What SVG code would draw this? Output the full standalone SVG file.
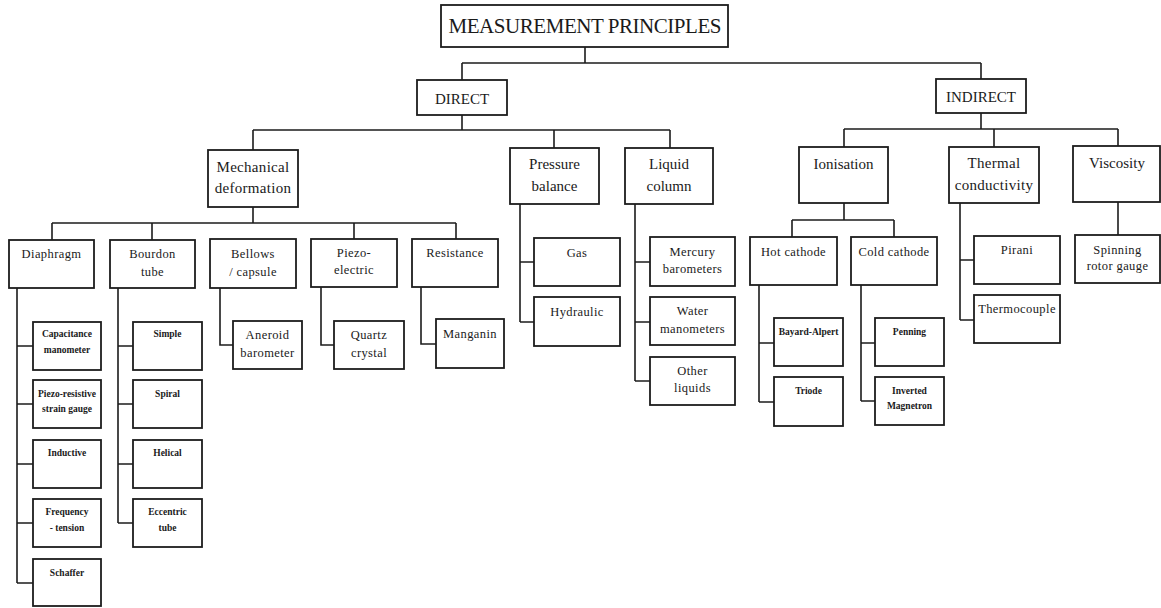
<svg xmlns="http://www.w3.org/2000/svg" width="1161" height="608" viewBox="0 0 1161 608">
<style>
.box{fill:#fff;stroke:#1c1c1c;stroke-width:1.8}
.ln{fill:none;stroke:#1c1c1c;stroke-width:1.6}
text{font-family:"Liberation Serif","Times New Roman",serif;fill:#1a1a1a;text-anchor:middle}
.t1{font-size:21px}
.t2{font-size:15px}
.t3{font-size:12.5px;letter-spacing:0.4px}
.t4{font-size:9.5px;font-weight:bold}
</style>
<rect width="1161" height="608" fill="#fff"/>
<g id="connectors">
<path class="ln" d="M585 47V63M462 63H981M462 63V80M981 63V79"/>
<path class="ln" d="M462 115V130M253 130H670M253 130V150M554 130V148M670 130V148"/>
<path class="ln" d="M253 207V223M52 223H456M52 223V240M152 223V240M354 223V239M456 223V239"/>
<path class="ln" d="M17 288V583M17 346H33M17 404H33M17 464H33M17 523H33M17 583H33"/>
<path class="ln" d="M118 288V523M118 346H133M118 404H133M118 464H133M118 523H133"/>
<path class="ln" d="M220 288V345H233M321 287V345H334M421 287V344H436"/>
<path class="ln" d="M520 204V322M520 262H534M520 322H534"/>
<path class="ln" d="M635 204V381M635 262H650M635 322H650M635 381H650"/>
<path class="ln" d="M981 113V129M844 129H1118M844 129V147M994 129V147M1118 129V146"/>
<path class="ln" d="M844 203V220M792 220H894M792 220V237M894 220V237"/>
<path class="ln" d="M759 285V402M759 343H774M759 402H774"/>
<path class="ln" d="M861 285V401M861 343H875M861 401H875"/>
<path class="ln" d="M960 203V320M960 260H974M960 320H974"/>
<path class="ln" d="M1118 202V235"/>
</g>
<g id="n-root"><rect class="box" x="441" y="5" width="287" height="42"/><text class="t1" x="585" y="33" textLength="273">MEASUREMENT PRINCIPLES</text></g>
<g id="n-direct"><rect class="box" x="417" y="80" width="90" height="35"/><text class="t2" x="462" y="104">DIRECT</text></g>
<g id="n-indirect"><rect class="box" x="936" y="79" width="90" height="34"/><text class="t2" x="981" y="102">INDIRECT</text></g>

<g id="n-mech"><rect class="box" x="208" y="150" width="90" height="57"/><text class="t2" x="253" y="172" letter-spacing="0.3">Mechanical</text><text class="t2" x="253" y="193" letter-spacing="0.3">deformation</text></g>
<g id="n-pressure"><rect class="box" x="510" y="148" width="89" height="56"/><text class="t2" x="554.5" y="169">Pressure</text><text class="t2" x="554.5" y="191">balance</text></g>
<g id="n-liquid"><rect class="box" x="625" y="148" width="88" height="56"/><text class="t2" x="669" y="169">Liquid</text><text class="t2" x="669" y="191">column</text></g>

<g id="n-diaphragm"><rect class="box" x="9" y="240" width="85" height="48"/><text class="t3" x="51.5" y="258">Diaphragm</text></g>
<g id="n-bourdon"><rect class="box" x="110" y="240" width="85" height="48"/><text class="t3" x="152.5" y="258">Bourdon</text><text class="t3" x="152.5" y="276">tube</text></g>
<g id="n-bellows"><rect class="box" x="210" y="239" width="86" height="49"/><text class="t3" x="253" y="258">Bellows</text><text class="t3" x="253" y="276">/ capsule</text></g>
<g id="n-piezo"><rect class="box" x="311" y="239" width="86" height="48"/><text class="t3" x="354" y="257">Piezo-</text><text class="t3" x="354" y="274">electric</text></g>
<g id="n-resistance"><rect class="box" x="412" y="239" width="86" height="48"/><text class="t3" x="455" y="257">Resistance</text></g>

<g id="n-capacitance"><rect class="box" x="33" y="322" width="68" height="48"/><text class="t4" x="67" y="337">Capacitance</text><text class="t4" x="67" y="353">manometer</text></g>
<g id="n-piezores"><rect class="box" x="33" y="380" width="68" height="48"/><text class="t4" x="67" y="397">Piezo-resistive</text><text class="t4" x="67" y="412">strain gauge</text></g>
<g id="n-inductive"><rect class="box" x="33" y="440" width="68" height="48"/><text class="t4" x="67" y="456">Inductive</text></g>
<g id="n-frequency"><rect class="box" x="33" y="499" width="68" height="48"/><text class="t4" x="67" y="515">Frequency</text><text class="t4" x="67" y="531">- tension</text></g>
<g id="n-schaffer"><rect class="box" x="33" y="559" width="68" height="47"/><text class="t4" x="67" y="576">Schaffer</text></g>

<g id="n-simple"><rect class="box" x="133" y="322" width="69" height="48"/><text class="t4" x="167.5" y="337">Simple</text></g>
<g id="n-spiral"><rect class="box" x="133" y="380" width="69" height="48"/><text class="t4" x="167.5" y="397">Spiral</text></g>
<g id="n-helical"><rect class="box" x="133" y="440" width="69" height="48"/><text class="t4" x="167.5" y="456">Helical</text></g>
<g id="n-eccentric"><rect class="box" x="133" y="499" width="69" height="48"/><text class="t4" x="167.5" y="515">Eccentric</text><text class="t4" x="167.5" y="531">tube</text></g>

<g id="n-aneroid"><rect class="box" x="233" y="321" width="69" height="48"/><text class="t3" x="267.5" y="339">Aneroid</text><text class="t3" x="267.5" y="357">barometer</text></g>
<g id="n-quartz"><rect class="box" x="334" y="321" width="70" height="48"/><text class="t3" x="369" y="339">Quartz</text><text class="t3" x="369" y="357">crystal</text></g>
<g id="n-manganin"><rect class="box" x="436" y="319" width="68" height="49"/><text class="t3" x="470" y="338">Manganin</text></g>

<g id="n-gas"><rect class="box" x="534" y="238" width="86" height="48"/><text class="t3" x="577" y="257">Gas</text></g>
<g id="n-hydraulic"><rect class="box" x="534" y="297" width="86" height="49"/><text class="t3" x="577" y="316">Hydraulic</text></g>

<g id="n-mercury"><rect class="box" x="650" y="237" width="85" height="49"/><text class="t3" x="692.5" y="256">Mercury</text><text class="t3" x="692.5" y="273">barometers</text></g>
<g id="n-water"><rect class="box" x="650" y="297" width="85" height="48"/><text class="t3" x="692.5" y="315">Water</text><text class="t3" x="692.5" y="333">manometers</text></g>
<g id="n-other"><rect class="box" x="650" y="357" width="85" height="48"/><text class="t3" x="692.5" y="375">Other</text><text class="t3" x="692.5" y="392">liquids</text></g>

<g id="n-ionisation"><rect class="box" x="799" y="147" width="89" height="56"/><text class="t2" x="843.5" y="169">Ionisation</text></g>
<g id="n-thermal"><rect class="box" x="949" y="147" width="90" height="56"/><text class="t2" x="994" y="168" letter-spacing="0.3">Thermal</text><text class="t2" x="994" y="190" letter-spacing="0.3">conductivity</text></g>
<g id="n-viscosity"><rect class="box" x="1073" y="146" width="87" height="56"/><text class="t2" x="1117" y="168">Viscosity</text></g>

<g id="n-hot"><rect class="box" x="750" y="237" width="87" height="48"/><text class="t3" x="793.5" y="256" letter-spacing="0">Hot cathode</text></g>
<g id="n-cold"><rect class="box" x="851" y="237" width="86" height="48"/><text class="t3" x="894" y="256" letter-spacing="0.2">Cold cathode</text></g>
<g id="n-bayard"><rect class="box" x="774" y="318" width="69" height="48"/><text class="t4" x="808.5" y="335">Bayard-Alpert</text></g>
<g id="n-triode"><rect class="box" x="774" y="377" width="69" height="49"/><text class="t4" x="808.5" y="394">Triode</text></g>
<g id="n-penning"><rect class="box" x="875" y="318" width="69" height="48"/><text class="t4" x="909.5" y="335">Penning</text></g>
<g id="n-inverted"><rect class="box" x="875" y="377" width="69" height="48"/><text class="t4" x="909.5" y="394">Inverted</text><text class="t4" x="909.5" y="409">Magnetron</text></g>

<g id="n-pirani"><rect class="box" x="974" y="236" width="86" height="48"/><text class="t3" x="1017" y="254">Pirani</text></g>
<g id="n-thermocouple"><rect class="box" x="974" y="295" width="86" height="48"/><text class="t3" x="1017" y="313" letter-spacing="0.2">Thermocouple</text></g>
<g id="n-spinning"><rect class="box" x="1075" y="235" width="85" height="48"/><text class="t3" x="1117.5" y="254">Spinning</text><text class="t3" x="1117.5" y="270">rotor gauge</text></g>
</svg>
